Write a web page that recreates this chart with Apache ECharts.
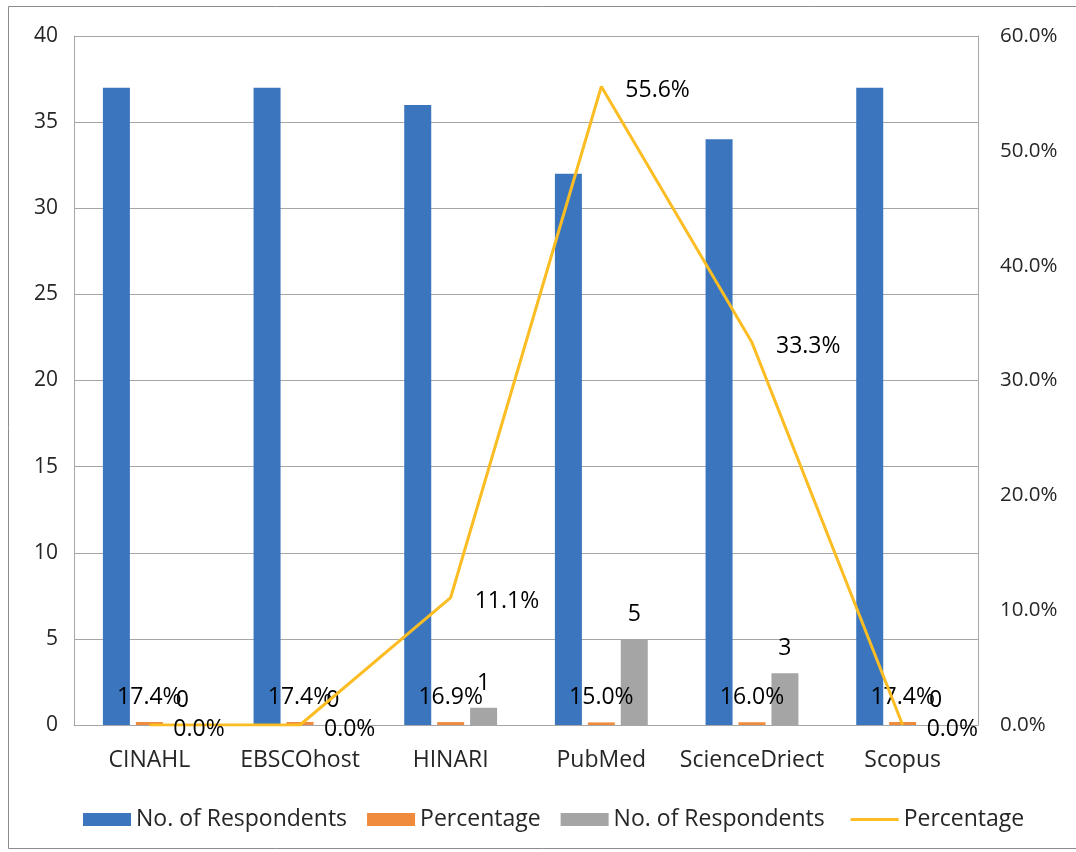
<!DOCTYPE html>
<html>
<head>
<meta charset="utf-8">
<script src="https://cdn.jsdelivr.net/npm/echarts@6/dist/echarts.min.js"></script>
<style>html,body{margin:0;padding:0;background:#fff}#c{width:1076px;height:852px}</style>
</head>
<body>
<div id="c"></div>
<script>
const categories = ['CINAHL', 'EBSCOhost', 'HINARI', 'PubMed', 'ScienceDriect', 'Scopus'];
const respondentsA = [37, 37, 36, 32, 34, 37];
const percentageA = [0.174, 0.174, 0.169, 0.150, 0.160, 0.174];
const respondentsB = [0, 0, 1, 5, 3, 0];
const percentageB = [0, 0, 0.111, 0.556, 0.333, 0];
const leftTicks = {min: 0, max: 40, interval: 5};
const rightTicks = {min: 0, max: 0.6, interval: 0.1};

const FONT = 'Open Sans';
const TXT = '#262626';
const pct = v => (v * 100).toFixed(1) + '%';

const chart = echarts.init(document.getElementById('c'));
chart.setOption({
  animation: false,
  textStyle: {fontFamily: FONT},
  graphic: [{
    type: 'rect', shape: {x: 8.5, y: 6.5, width: 1080, height: 842},
    style: {fill: 'none', stroke: '#8c8c8c', lineWidth: 1}, silent: true, z: -10
  }],
  grid: {left: 74, right: 98, top: 36, bottom: 127},
  legend: {
    bottom: 16, left: 78, itemWidth: 48, itemHeight: 13, itemGap: 20,
    symbolKeepAspect: true,
    textStyle: {fontSize: 23, color: TXT, fontFamily: FONT},
    data: [
      {name: 'No. of Respondents', icon: 'rect'},
      {name: 'Percentage', icon: 'rect'},
      {name: 'No. of Respondents ', icon: 'rect'},
      {name: 'Percentage ', icon: 'path://M0,0 H48 V3 H0 Z'}
    ]
  },
  xAxis: {
    type: 'category', data: categories,
    axisLine: {lineStyle: {color: '#a6a6a6'}},
    axisTick: {show: false},
    axisLabel: {fontSize: 23, color: TXT, margin: 24, interval: 0}
  },
  yAxis: [{
    type: 'value', min: leftTicks.min, max: leftTicks.max, interval: leftTicks.interval,
    axisLine: {show: true, lineStyle: {color: '#a6a6a6'}},
    axisTick: {show: false},
    splitLine: {lineStyle: {color: '#a6a6a6'}},
    axisLabel: {fontSize: 21, color: TXT, margin: 16}
  }, {
    type: 'value', min: rightTicks.min, max: rightTicks.max, interval: rightTicks.interval,
    position: 'right',
    axisLine: {show: true, lineStyle: {color: '#a6a6a6'}},
    axisTick: {show: false},
    splitLine: {show: false},
    axisLabel: {fontSize: 20.5, color: TXT, margin: 22, formatter: v => pct(v)}
  }],
  series: [{
    name: 'No. of Respondents', type: 'bar', data: respondentsA, yAxisIndex: 0,
    barWidth: 27, barGap: '22%',
    itemStyle: {color: '#3a75bd'}
  }, {
    name: 'Percentage', type: 'bar', data: percentageA, yAxisIndex: 0,
    barWidth: 27, barGap: '22%',
    itemStyle: {color: '#f08a3c'},
    label: {show: true, position: 'top', distance: 13, fontSize: 23, color: '#000', formatter: p => pct(p.value)}
  }, {
    name: 'No. of Respondents ', type: 'bar', data: respondentsB, yAxisIndex: 0,
    barWidth: 27, barGap: '22%',
    itemStyle: {color: '#a5a5a5'},
    label: {show: true, position: 'top', distance: 13, fontSize: 23, color: '#000'}
  }, {
    name: 'Percentage ', type: 'line', data: percentageB, yAxisIndex: 1,
    symbol: 'none', lineStyle: {color: '#fbbd23', width: 3}, itemStyle: {color: '#fbbd23'},
    z: 5
  }, {
    name: 'PercentageLabels', type: 'scatter', data: percentageB, yAxisIndex: 1,
    symbolSize: 0, silent: true, itemStyle: {opacity: 1},
    label: {show: true, position: 'right', distance: 24, offset: [0, 4], fontSize: 23, color: '#000', formatter: p => pct(p.value)},
    z: 6
  }]
});
</script>
</body>
</html>
